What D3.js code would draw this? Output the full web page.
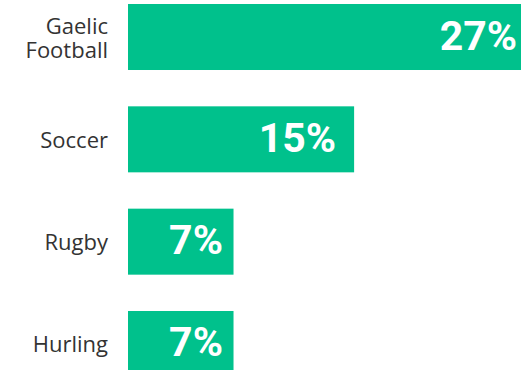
<!DOCTYPE html>
<html>
<head>
<meta charset="utf-8">
<script src="https://cdn.jsdelivr.net/npm/d3@7"></script>
<style>
  html, body { margin: 0; padding: 0; background: #fff; overflow: hidden; }
  svg { display: block; }
</style>
</head>
<body>
<svg id="chart" width="521" height="370"></svg>
<script>
// Share of respondents by favourite sport
const categories = [["Gaelic", "Football"], ["Soccer"], ["Rugby"], ["Hurling"]];
const values = [27, 15, 7, 7];
const valueLabels = ["27%", "15%", "7%", "7%"];

const W = 521, H = 370;
const barColor = "#00c18c";

const svg = d3.select("#chart");
const keys = categories.map(c => c.join(" "));

const y = d3.scaleBand()
  .domain(keys)
  .range([4, 377])
  .paddingInner(0.355)
  .paddingOuter(0);

const x = d3.scaleLinear()
  .domain([0, 27])
  .range([128, 535]);

const rows = keys.map((k, i) => ({ key: k, lines: categories[i], value: values[i], label: valueLabels[i] }));

const g = svg.selectAll("g.row")
  .data(rows)
  .join("g")
  .attr("class", "row");

g.append("rect")
  .attr("x", x(0))
  .attr("y", d => y(d.key))
  .attr("width", d => x(d.value) - x(0))
  .attr("height", y.bandwidth())
  .attr("fill", barColor);

// Value labels inside the bar, right aligned
g.append("text")
  .attr("x", d => {
    const w = x(d.value) - x(0);
    return x(d.value) - Math.min(18, w * 0.1);
  })
  .attr("y", d => y(d.key) + y.bandwidth() / 2 + 12.5)
  .attr("text-anchor", "end")
  .attr("fill", "#fff")
  .style("font-family", "Roboto, sans-serif")
  .style("font-weight", 700)
  .style("font-size", "41px")
  .text(d => d.label);

// Category labels left of the bars
const cat = g.append("text")
  .attr("text-anchor", "end")
  .attr("fill", "#333")
  .style("font-family", "'Open Sans', sans-serif")
  .style("font-size", "22px");

cat.each(function(d) {
  const t = d3.select(this);
  const mid = y(d.key) + y.bandwidth() / 2 + 8.5;
  const lh = 24;
  const first = mid - (d.lines.length - 1) * lh / 2;
  d.lines.forEach((ln, j) => {
    t.append("tspan")
      .attr("x", 108)
      .attr("y", first + j * lh)
      .text(ln);
  });
});
</script>
</body>
</html>
